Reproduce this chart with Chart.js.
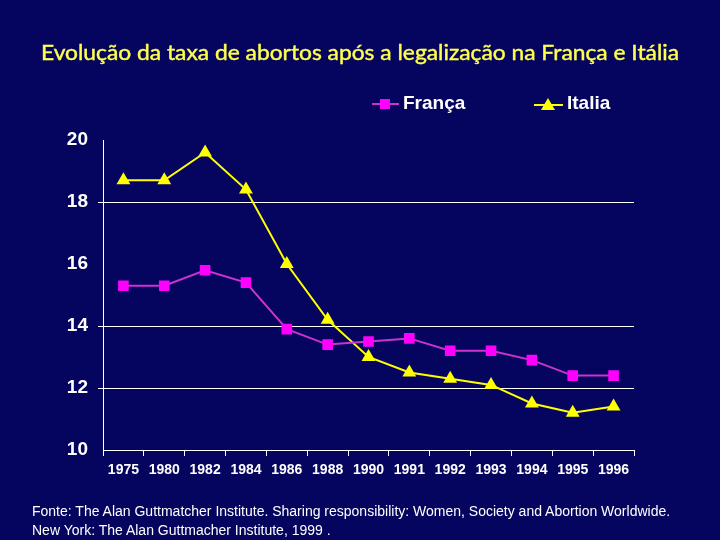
<!DOCTYPE html>
<html>
<head>
<meta charset="utf-8">
<script src="https://cdn.jsdelivr.net/npm/chart.js@4"></script>
<style>
  html, body { margin: 0; padding: 0; background: #05055f; }
  #wrap { position: relative; width: 720px; height: 540px; overflow: hidden; }
  canvas { position: absolute; left: 0; top: 0; }
  #titulo { position: absolute; left: 0; top: 39px; width: 720px; text-align: center;
    font-family: Lato, "Open Sans", sans-serif; font-size: 21px; color: #ffff4d; white-space: nowrap;
    -webkit-text-stroke: 0.4px #ffff4d; }
  #titulo span { display: inline-block; transform-origin: center; }
  .leg { position: absolute; top: 92px; font-family: "Liberation Sans", Arial, sans-serif;
    font-weight: bold; font-size: 19px; color: #fff; }
  .leg svg { vertical-align: -3px; margin-right: 4px; }
  #fonte { position: absolute; left: 32px; top: 502px; font-family: "Liberation Sans", Arial, sans-serif;
    font-size: 14px; line-height: 19px; color: #fff; white-space: nowrap; }
</style>
</head>
<body>
<div id="wrap">
  <canvas id="grafico" width="720" height="540"></canvas>
  <div id="titulo"><span>Evolução da taxa de abortos após a legalização na França e Itália</span></div>
  <div class="leg" style="left:372px"><svg width="27" height="16"><line x1="0" y1="8" x2="27" y2="8" stroke="#cc33cc" stroke-width="2"/><rect x="8" y="3" width="10" height="10" fill="#ff00ff"/></svg>França</div>
  <div class="leg" style="left:534px"><svg width="29" height="16"><line x1="0" y1="9" x2="29" y2="9" stroke="#ffff00" stroke-width="2"/><polygon points="14,2 21,14 7,14" fill="#ffff00"/></svg>Italia</div>
  <div id="fonte">Fonte: The Alan Guttmatcher Institute. Sharing responsibility: Women, Society and Abortion Worldwide.<br>New York: The Alan Guttmacher Institute, 1999 .</div>
</div>
<script>
const anos = ['1975', '1980', '1982', '1984', '1986', '1988', '1990', '1991', '1992', '1993', '1994', '1995', '1996'];
const franca = [15.3, 15.3, 15.8, 15.4, 13.9, 13.4, 13.5, 13.6, 13.2, 13.2, 12.9, 12.4, 12.4];
const italia = [18.7, 18.7, 19.6, 18.4, 16.0, 14.2, 13.0, 12.5, 12.3, 12.1, 11.5, 11.2, 11.4];
const linhasGrade = [12, 14, 18];

// ajustar largura do título
const t = document.querySelector('#titulo span');
t.style.transform = 'scaleX(' + (638 / t.offsetWidth) + ')';

new Chart(document.getElementById('grafico'), {
  type: 'line',
  data: {
    labels: anos,
    datasets: [{
      label: 'França',
      data: franca,
      borderColor: '#cc33cc',
      backgroundColor: '#ff00ff',
      borderWidth: 2,
      pointStyle: 'rect',
      pointRadius: 7.5,
      pointBorderWidth: 0,
      tension: 0
    }, {
      label: 'Italia',
      data: italia,
      borderColor: '#ffff00',
      backgroundColor: '#ffff00',
      borderWidth: 2,
      pointStyle: 'triangle',
      pointRadius: 8,
      pointBorderWidth: 0,
      tension: 0
    }]
  },
  options: {
    responsive: false,
    animation: false,
    layout: { padding: { left: 0, right: 86, top: 140, bottom: 0 } },
    plugins: { legend: { display: false }, tooltip: { enabled: false } },
    scales: {
      x: {
        offset: true,
        afterFit: s => { s.height = 90; },
        grid: { offset: true, drawOnChartArea: false, drawTicks: true, tickLength: 6, color: '#ffffff' },
        border: { color: '#ffffff', width: 1 },
        ticks: { color: '#ffffff', padding: 6, maxRotation: 0, autoSkip: false,
          font: { family: '"Liberation Sans", Arial, sans-serif', weight: 'bold', size: 14 } }
      },
      y: {
        min: 10,
        max: 20,
        afterFit: s => { s.width = 103; },
        grid: {
          color: c => linhasGrade.includes(c.tick.value) ? '#ffffff' : 'rgba(0,0,0,0)',
          drawTicks: true, tickLength: 5
        },
        border: { color: '#ffffff', width: 1 },
        ticks: { stepSize: 2, color: '#ffffff', padding: 10,
          font: { family: '"Liberation Sans", Arial, sans-serif', weight: 'bold', size: 19 } }
      }
    }
  }
});
</script>
</body>
</html>
